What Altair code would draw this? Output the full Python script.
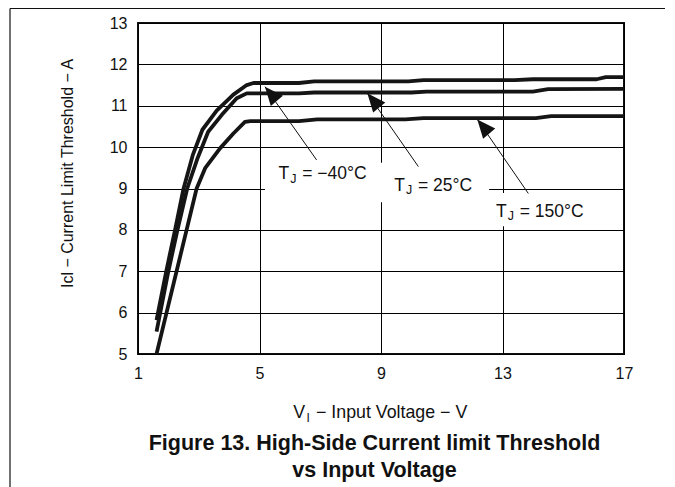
import altair as alt
import pandas as pd

FONT = "Liberation Sans"

# ---- data ----
v_m40 = [1.61, 1.93, 2.22, 2.50, 2.80, 3.12, 3.59, 4.14, 4.58, 4.80, 6.3, 6.8, 9.9, 10.4, 13.4, 14.0, 16.1, 16.4, 17.0]
i_m40 = [5.82, 7.0, 8.0, 9.0, 9.8, 10.42, 10.88, 11.27, 11.50, 11.55, 11.55, 11.59, 11.59, 11.62, 11.62, 11.64, 11.64, 11.69, 11.69]

v_25 = [1.61, 2.0, 2.30, 2.62, 2.97, 3.31, 3.76, 4.25, 4.58, 6.3, 6.8, 10.0, 10.5, 14.0, 14.5, 17.0]
i_25 = [5.54, 7.0, 8.0, 9.0, 9.75, 10.37, 10.78, 11.18, 11.30, 11.30, 11.32, 11.32, 11.34, 11.34, 11.40, 11.41]

v_150 = [1.61, 1.94, 2.27, 2.60, 2.93, 3.21, 3.70, 4.14, 4.52, 4.7, 6.3, 6.9, 9.8, 10.4, 14.1, 14.6, 17.0]
i_150 = [5.0, 6.0, 7.0, 8.0, 9.0, 9.49, 9.97, 10.33, 10.61, 10.63, 10.63, 10.67, 10.67, 10.70, 10.70, 10.75, 10.75]

x_ticks = [1, 5, 9, 13, 17]
y_ticks = [5, 6, 7, 8, 9, 10, 11, 12, 13]

# annotation labels: anchor = right edge of "T", on its baseline
lab_v = [5.98, 9.79, 13.14]
lab_i = [9.22, 8.95, 8.32]
lab_rest = ["= −40°C", "= 25°C", "= 150°C"]
# arrows: start (near label) -> tip (on curve)
arr_v0 = [6.88, 10.23, 13.85]
arr_i0 = [9.69, 9.53, 8.88]
arr_v1 = [5.18, 8.55, 12.17]
arr_i1 = [11.46, 11.30, 10.67]
# white boxes behind the labels
box_v0 = [5.18, 8.95, 12.59]
box_v1 = [9.15, 12.56, 16.21]
box_i0 = [8.72, 8.67, 8.09]
box_i1 = [9.62, 9.50, 8.89]

rows = []
for name, vs, cs in [("-40", v_m40, i_m40), ("25", v_25, i_25), ("150", v_150, i_150)]:
    for k, (v, c) in enumerate(zip(vs, cs)):
        rows.append({"series": name, "order": k, "v": v, "i": c})
df = pd.DataFrame(rows)

ann = pd.DataFrame({"v": lab_v, "i": lab_i, "rest": lab_rest,
                    "v0": arr_v0, "i0": arr_i0, "v1": arr_v1, "i1": arr_i1})
boxes = pd.DataFrame({"v0": box_v0, "v1": box_v1, "i0": box_i0, "i1": box_i1})
one = pd.DataFrame({"a": [0]})

xs = alt.Scale(domain=[1, 17], nice=False, zero=False)
ys = alt.Scale(domain=[5, 13], nice=False, zero=False)

x_axis = alt.Axis(values=x_ticks, title=None, grid=True, gridColor="black", gridWidth=1,
                  ticks=False, domain=False, labelFontSize=16, labelFont=FONT,
                  labelColor="#111", labelPadding=11, labelFlush=False, labelOverlap=False)
y_axis = alt.Axis(values=y_ticks, title="Icl − Current Limit Threshold − A", grid=True,
                  gridColor="black", gridWidth=1, ticks=False, domain=False,
                  labelFontSize=16, labelFont=FONT, labelColor="#111", labelPadding=11,
                  labelOverlap=False, labelFlush=False,
                  titleFont=FONT, titleFontSize=16, titleFontWeight="normal", titleColor="#111",
                  titleX=-66, titleY=150, titleAngle=270, titleAlign="center",
                  titleBaseline="alphabetic")

lines = alt.Chart(df).mark_line(color="#151515", strokeWidth=3.8, strokeJoin="round").encode(
    x=alt.X("v:Q", scale=xs, axis=x_axis),
    y=alt.Y("i:Q", scale=ys, axis=y_axis),
    detail="series:N",
    order="order:Q",
)

box_layer = alt.Chart(boxes).mark_rect(color="white").encode(
    x=alt.X("v0:Q", scale=xs), x2="v1:Q",
    y=alt.Y("i0:Q", scale=ys), y2="i1:Q",
)

arrows = alt.Chart(ann).mark_rule(color="#111", strokeWidth=1).encode(
    x=alt.X("v0:Q", scale=xs), x2="v1:Q",
    y=alt.Y("i0:Q", scale=ys), y2="i1:Q",
)

heads = alt.Chart(ann).mark_point(
    shape="M0,0 L0.62,1.45 L-0.62,1.45 Z", filled=True, color="#111", opacity=1,
    size=650, angle=320,
).encode(x=alt.X("v1:Q", scale=xs), y=alt.Y("i1:Q", scale=ys))

t_T = alt.Chart(ann).mark_text(text="T", align="right", baseline="alphabetic",
                              font=FONT, fontSize=17.5, color="#111").encode(
    x=alt.X("v:Q", scale=xs), y=alt.Y("i:Q", scale=ys))
t_J = alt.Chart(ann).mark_text(text="J", align="left", baseline="alphabetic", dx=1, dy=3.5,
                              font=FONT, fontSize=12.5, color="#111").encode(
    x=alt.X("v:Q", scale=xs), y=alt.Y("i:Q", scale=ys))
t_rest = alt.Chart(ann).mark_text(align="left", baseline="alphabetic", dx=13,
                                 font=FONT, fontSize=17.5, color="#111").encode(
    x=alt.X("v:Q", scale=xs), y=alt.Y("i:Q", scale=ys), text="rest:N")

# x-axis title with subscript (pixel positions relative to the plot area)
xt_V = alt.Chart(one).mark_text(text="V", align="right", baseline="alphabetic",
                               font=FONT, fontSize=17.8, color="#111").encode(
    x=alt.value(167), y=alt.value(395))
xt_I = alt.Chart(one).mark_text(text="I", align="left", baseline="alphabetic",
                               font=FONT, fontSize=12, color="#111").encode(
    x=alt.value(168.5), y=alt.value(398.5))
xt_rest = alt.Chart(one).mark_text(text="− Input Voltage − V", align="left", baseline="alphabetic",
                                  font=FONT, fontSize=17.8, color="#111").encode(
    x=alt.value(178), y=alt.value(395))

title1 = alt.Chart(one).mark_text(text="Figure 13. High-Side Current limit Threshold",
                                 align="center", baseline="alphabetic", font=FONT,
                                 fontSize=21.5, fontWeight="bold", color="#111").encode(
    x=alt.value(236.5), y=alt.value(426.5))
title2 = alt.Chart(one).mark_text(text="vs Input Voltage",
                                 align="center", baseline="alphabetic", font=FONT,
                                 fontSize=21.5, fontWeight="bold", color="#111").encode(
    x=alt.value(236.5), y=alt.value(454))

# outer figure frame (top and left edges)
frame_top = alt.Chart(one).mark_rule(color="#111", strokeWidth=1.2).encode(
    x=alt.value(-128), x2=alt.value(527), y=alt.value(-14.5))
frame_left = alt.Chart(one).mark_rule(color="#111", strokeWidth=1.2).encode(
    x=alt.value(-128), y=alt.value(-14.5), y2=alt.value(470))

chart = alt.layer(
    lines, box_layer, arrows, heads, t_T, t_J, t_rest,
    xt_V, xt_I, xt_rest, title1, title2, frame_top, frame_left,
).properties(
    width=486, height=331,
    autosize=alt.AutoSizeParams(type="none"),
    padding={"left": 130, "top": 15, "right": 43, "bottom": 133},
    background="white",
).configure_view(stroke="#111", strokeWidth=2)

chart.save("out.html", embed_options={"renderer": "svg", "actions": False})
